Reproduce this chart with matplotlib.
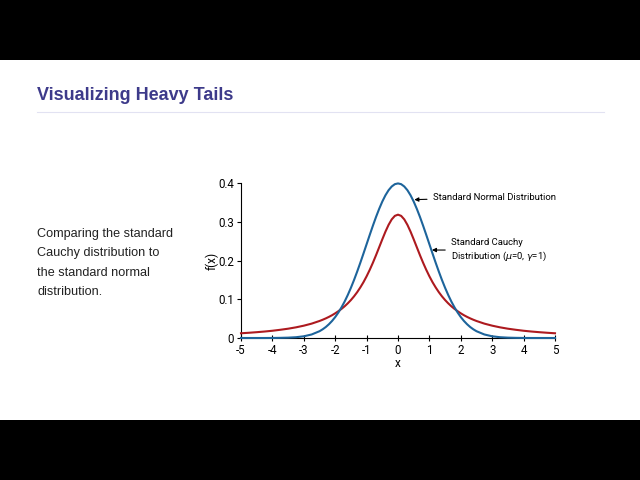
import matplotlib
matplotlib.use("Agg")
import matplotlib.pyplot as plt
from matplotlib.patches import Rectangle
from matplotlib.lines import Line2D

# density values for x >= 0 (both curves are symmetric about 0)
x_half = [0.0, 0.1, 0.2, 0.3, 0.4, 0.5, 0.6, 0.7, 0.8, 0.9, 1.0,
          1.1, 1.2, 1.3, 1.4, 1.5, 1.6, 1.7, 1.8, 1.9, 2.0,
          2.1, 2.2, 2.3, 2.4, 2.5, 2.75, 3.0, 3.25, 3.5, 3.75,
          4.0, 4.25, 4.5, 4.75, 5.0]
normal_half = [0.3989, 0.3970, 0.3910, 0.3814, 0.3683, 0.3521, 0.3332, 0.3123, 0.2897, 0.2661, 0.2420,
               0.2179, 0.1942, 0.1714, 0.1497, 0.1295, 0.1109, 0.0940, 0.0790, 0.0656, 0.0540,
               0.0440, 0.0355, 0.0283, 0.0224, 0.0175, 0.0091, 0.0044, 0.0020, 0.0009, 0.0004,
               0.0001, 0.0, 0.0, 0.0, 0.0]
cauchy_half = [0.3183, 0.3152, 0.3061, 0.2920, 0.2744, 0.2546, 0.2341, 0.2136, 0.1941, 0.1759, 0.1592,
               0.1440, 0.1305, 0.1183, 0.1075, 0.0979, 0.0894, 0.0818, 0.0751, 0.0691, 0.0637,
               0.0588, 0.0545, 0.0506, 0.0471, 0.0439, 0.0371, 0.0318, 0.0275, 0.0240, 0.0212,
               0.0187, 0.0167, 0.0150, 0.0135, 0.0122]

x_vals = [-v for v in reversed(x_half[1:])] + x_half
normal_pdf = list(reversed(normal_half[1:])) + normal_half
cauchy_pdf = list(reversed(cauchy_half[1:])) + cauchy_half

x_ticks = [-5, -4, -3, -2, -1, 0, 1, 2, 3, 4, 5]
y_ticks = [0, 0.1, 0.2, 0.3, 0.4]
y_tick_labels = ["0", "0.1", "0.2", "0.3", "0.4"]

BLUE = "#1d649b"
RED = "#ad1a1f"
TITLE_COLOR = "#3d3a8a"

fig = plt.figure(figsize=(6.4, 4.8), dpi=100)
fig.patch.set_facecolor("black")
fig.add_artist(Rectangle((0, 60 / 480), 1, 360 / 480, transform=fig.transFigure,
                         facecolor="white", edgecolor="none", zorder=0))

fig.text(37 / 640, 1 - 95 / 480, "Visualizing Heavy Tails", fontsize=13, fontweight="bold",
         color=TITLE_COLOR, family="Liberation Sans", va="center", ha="left")
fig.add_artist(Line2D([37 / 640, 604 / 640], [1 - 112 / 480, 1 - 112 / 480],
                      transform=fig.transFigure, color="#e2e2f2", linewidth=0.8))
fig.text(37 / 640, 1 - 263 / 480,
         "Comparing the standard\nCauchy distribution to\nthe standard normal\ndistribution.",
         fontsize=9.1, color="#222222", family="Liberation Sans", va="center", ha="left",
         linespacing=1.82)

ax = fig.add_axes([241 / 640, 1 - 338 / 480, 314 / 640, 155 / 480])
ax.set_facecolor("white")
ax.plot(x_vals, cauchy_pdf, color=RED, linewidth=1.5, clip_on=False, zorder=3)
ax.plot(x_vals, normal_pdf, color=BLUE, linewidth=1.5, clip_on=False, zorder=4)

ax.set_xlim(-5, 5)
ax.set_ylim(0, 0.4)
for side in ("top", "right"):
    ax.spines[side].set_visible(False)
for side in ("left", "bottom"):
    ax.spines[side].set_linewidth(0.8)
ax.set_xticks(x_ticks)
ax.set_xticklabels([str(t) for t in x_ticks], family="Roboto", fontsize=8.3)
ax.set_yticks(y_ticks)
ax.set_yticklabels(y_tick_labels, family="Roboto", fontsize=8.3)
ax.tick_params(axis="x", direction="inout", length=5, width=0.8, pad=2)
ax.tick_params(axis="y", direction="out", length=3, width=0.8, pad=2)
ax.set_xlabel("x", family="Roboto", fontsize=8.5, labelpad=0)
ax.set_ylabel("f(x)", family="Roboto", fontsize=8.5, labelpad=0)

ax.annotate("Standard Normal Distribution", xy=(0.52, 0.357), xytext=(1.1, 0.363),
            family="Roboto", fontsize=6.8, va="center", ha="left",
            arrowprops=dict(arrowstyle="-|>", color="black", lw=0.8, mutation_scale=6,
                            shrinkA=2, shrinkB=0))
ax.annotate("Standard Cauchy\nDistribution ($\\mu$=0, $\\gamma$=1)", xy=(1.08, 0.227),
            xytext=(1.68, 0.227), family="Roboto", fontsize=6.8, va="center", ha="left",
            linespacing=1.3,
            arrowprops=dict(arrowstyle="-|>", color="black", lw=0.8, mutation_scale=6,
                            shrinkA=2, shrinkB=0))

fig.savefig("out.png", dpi=100, facecolor=fig.get_facecolor())
